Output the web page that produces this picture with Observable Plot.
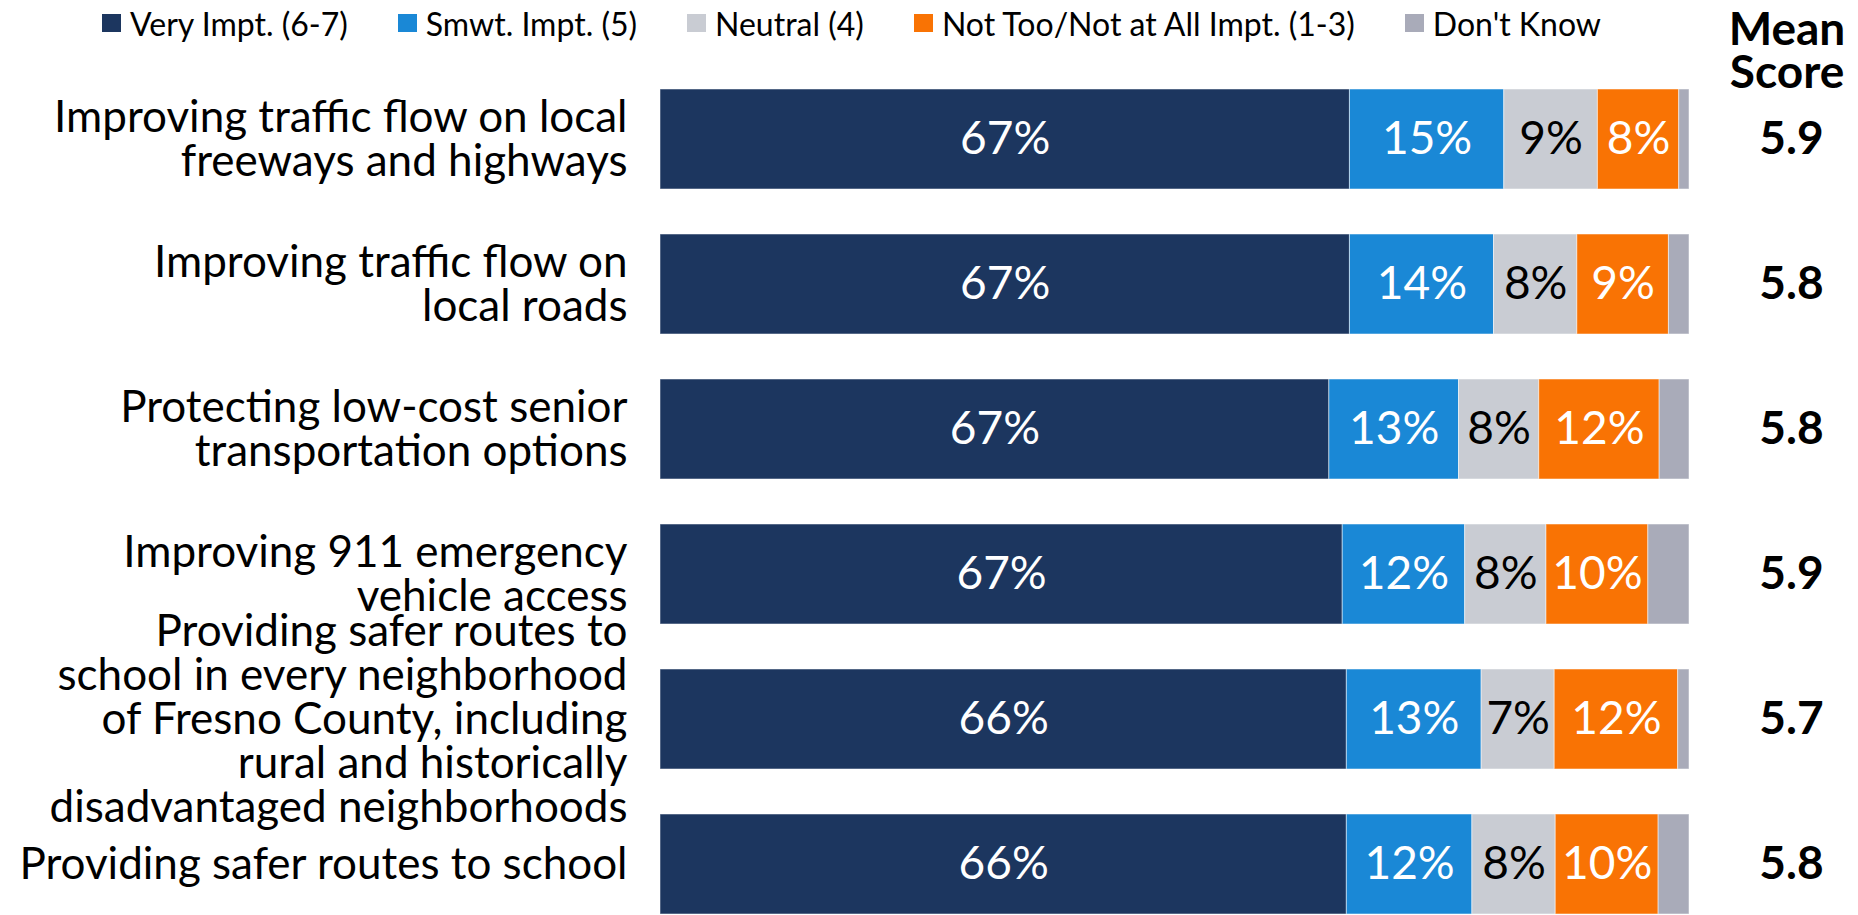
<!DOCTYPE html>
<html><head><meta charset="utf-8">
<script src="https://cdn.jsdelivr.net/npm/d3@7"></script>
<script src="https://cdn.jsdelivr.net/npm/@observablehq/plot@0.6"></script>
<style>
body{margin:0;background:#fff;font-family:Lato,sans-serif;color:#000}
#top{position:relative;width:1858px;height:88px}
#legend{position:absolute;left:102px;top:3px;height:40px;display:flex;align-items:center;gap:50px;font-size:32px;white-space:nowrap}
.item{display:flex;align-items:center}
.sw{width:19px;height:18px;margin-right:9px;flex:none}
.mh{position:absolute;left:1687px;width:200px;font-weight:bold;font-size:46px;text-align:center;line-height:43px;height:43px}
</style>
</head><body>
<div id="top"><div id="legend"></div><div class="mh" style="top:6px">Mean</div><div class="mh" style="top:49px">Score</div></div>
<div id="chart"></div>
<script>
const items = [
  "Improving traffic flow on local\nfreeways and highways",
  "Improving traffic flow on\nlocal roads",
  "Protecting low-cost senior\ntransportation options",
  "Improving 911 emergency\nvehicle access",
  "Providing safer routes to\nschool in every neighborhood\nof Fresno County, including\nrural and historically\ndisadvantaged neighborhoods",
  "Providing safer routes to school"
];
const categories = ["Very Impt. (6-7)", "Smwt. Impt. (5)", "Neutral (4)", "Not Too/Not at All Impt. (1-3)", "Don't Know"];
const colors = ["#1c365f", "#1a88d6", "#c9ccd3", "#f97304", "#a9abb9"];
const textColors = ["white", "white", "black", "white", null];

const veryImpt = [67.0, 67.0, 65.0, 66.3, 66.7, 66.7];
const smwtImpt = [15.0, 14.0, 12.6, 11.9, 13.1, 12.2];
const neutral  = [9.1, 8.1, 7.8, 7.9, 7.1, 8.1];
const notImpt  = [7.9, 8.9, 11.7, 9.9, 12.0, 10.0];
const dontKnow = [1.0, 2.0, 2.9, 4.0, 1.1, 3.0];

const veryLabels    = ["67%", "67%", "67%", "67%", "66%", "66%"];
const smwtLabels    = ["15%", "14%", "13%", "12%", "13%", "12%"];
const neutralLabels = ["9%", "8%", "8%", "8%", "7%", "8%"];
const notLabels     = ["8%", "9%", "12%", "10%", "12%", "10%"];
const dkLabels      = ["", "", "", "", "", ""];

const meanScores = ["5.9", "5.8", "5.8", "5.9", "5.7", "5.8"];

const series = [veryImpt, smwtImpt, neutral, notImpt, dontKnow];
const seriesLabels = [veryLabels, smwtLabels, neutralLabels, notLabels, dkLabels];

const rows = [];
items.forEach((item, i) => {
  categories.forEach((cat, j) => {
    rows.push({item, category: cat, value: series[j][i], label: seriesLabels[j][i], tc: textColors[j]});
  });
});

// legend
const legend = document.getElementById("legend");
categories.forEach((c, j) => {
  const it = document.createElement("span");
  it.className = "item";
  const sw = document.createElement("span");
  sw.className = "sw";
  sw.style.background = colors[j];
  it.appendChild(sw);
  it.appendChild(document.createTextNode(c));
  legend.appendChild(it);
});

const stackOpts = {x: "value", y: "item", z: "category", order: categories};

const chart = Plot.plot({
  width: 1858,
  height: 827,
  marginLeft: 660,
  marginRight: 169,
  marginTop: 0,
  marginBottom: 0,
  style: {fontFamily: "Lato, sans-serif", background: "white"},
  x: {domain: [0, 100], axis: null},
  y: {domain: items, paddingInner: 0.31, paddingOuter: 0, axis: null, label: null},
  color: {domain: categories, range: colors},
  marks: [
    Plot.barX(rows, Plot.stackX({...stackOpts, fill: "category", stroke: "white", strokeOpacity: 0.5, strokeWidth: 1})),
    Plot.text(rows, Plot.stackX({...stackOpts, text: d => d.tc === "white" ? d.label : "", fill: "white", fontSize: 46})),
    Plot.text(rows, Plot.stackX({...stackOpts, text: d => d.tc === "black" ? d.label : "", fill: "black", fontSize: 46})),
    Plot.axisY({tickSize: 0, tickPadding: 33, fontSize: 44, lineHeight: 1, fill: "black", textAnchor: "end", label: null}),
    Plot.text(items, {y: d => d, text: (d, i) => meanScores[i], frameAnchor: "right", dx: 102, textAnchor: "middle", fontSize: 46, fontWeight: "bold", fill: "black"})
  ]
});
document.getElementById("chart").appendChild(chart);
</script>
</body></html>
